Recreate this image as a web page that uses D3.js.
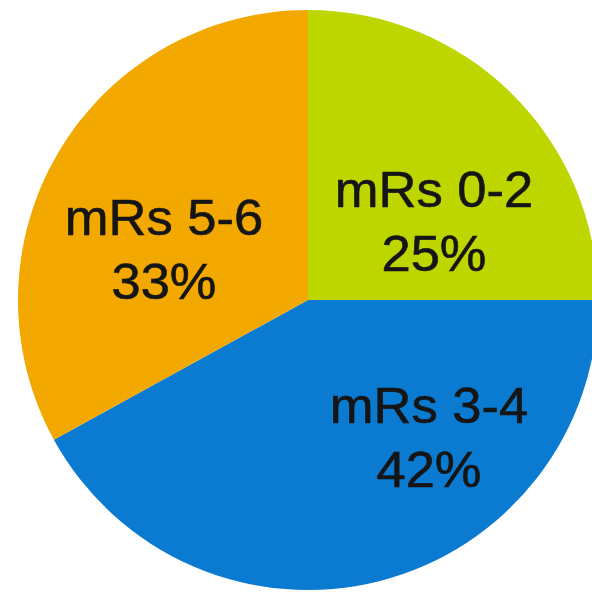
<!DOCTYPE html>
<html>
<head>
<meta charset="utf-8">
<script src="https://cdn.jsdelivr.net/npm/d3@7"></script>
<style>
html,body{margin:0;padding:0;background:#fff;}
svg{display:block;}
</style>
</head>
<body>
<script>
const categories = ["mRs 0-2", "mRs 3-4", "mRs 5-6"];
const values = [25, 42, 33];
const percentLabels = ["25%", "42%", "33%"];
const colors = ["#BDD600", "#0B7BD1", "#F3A800"];

const W = 592, H = 596;
const cx = 308, cy = 300, R = 290;
const fontSize = 50, scaleX = 1.05, lineGap = 64;
// label anchor (center x, first baseline y) per slice
const labelPos = [[434, 207], [429, 423], [164, 235]];

const svg = d3.select("body").append("svg").attr("width", W).attr("height", H);
const g = svg.append("g").attr("transform", `translate(${cx},${cy})`);

const pie = d3.pie().sort(null).value(d => d)(values);
const arc = d3.arc().innerRadius(0).outerRadius(R);

g.selectAll("path").data(pie).join("path")
  .attr("d", arc)
  .attr("fill", (d, i) => colors[i]);

const labels = svg.selectAll("g.lbl").data(pie).join("g")
  .attr("class", "lbl")
  .attr("transform", (d, i) => `translate(${labelPos[i][0]},${labelPos[i][1]}) scale(${scaleX},1)`);

function styleText(sel) {
  sel.attr("text-anchor", "middle")
    .attr("font-family", "Liberation Sans, Arial, sans-serif")
    .attr("font-size", fontSize)
    .attr("fill", "#151515")
    .attr("stroke", "#151515")
    .attr("stroke-width", 0.6);
}

labels.append("text").call(styleText)
  .text((d, i) => categories[i]);

labels.append("text").call(styleText)
  .attr("y", lineGap)
  .text((d, i) => percentLabels[i]);
</script>
</body>
</html>
